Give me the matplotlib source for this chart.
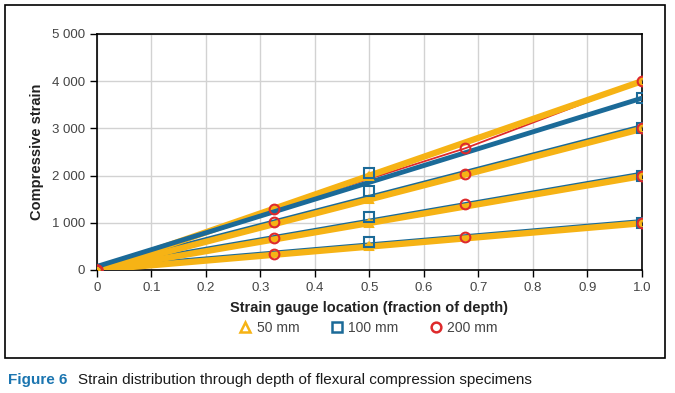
import matplotlib.pyplot as plt
from matplotlib.patches import Rectangle
from matplotlib.lines import Line2D

plt.rcParams['font.family'] = ['Liberation Sans', 'DejaVu Sans']

# strain gauge locations (fraction of depth)
x_50 = [0, 0.5, 1.0]
x_100 = [0, 0.5, 1.0]
x_200 = [0, 0.325, 0.675, 1.0]

# measured strains, one list per specimen
y_50 = [[0, 2000, 4000], [0, 1500, 3000], [0, 1000, 2000], [0, 500, 1000]]
y_100 = [[0, 2050, 3640], [0, 1670, 3000], [0, 1120, 2000], [0, 590, 1000]]
y_200 = [[0, 1290, 2575, 4000], [0, 1010, 2025, 3000],
         [0, 680, 1390, 2000], [0, 332, 706, 1000]]

# fitted lines: value at depth 0 and at depth 1
fit_x = [0, 1.0]
fit_50 = [[0, 4000], [0, 2990], [0, 1990], [0, 990]]
fit_100 = [[75, 3640], [70, 3060], [65, 2055], [60, 1050]]

xticks = [0, 0.1, 0.2, 0.3, 0.4, 0.5, 0.6, 0.7, 0.8, 0.9, 1.0]
xtick_labels = ["0", "0.1", "0.2", "0.3", "0.4", "0.5", "0.6", "0.7", "0.8", "0.9", "1.0"]
yticks = [0, 1000, 2000, 3000, 4000, 5000]
ytick_labels = ["0", "1 000", "2 000", "3 000", "4 000", "5 000"]

yellow = "#f6b315"
blue = "#1b6a98"
red = "#de2a2c"

fig = plt.figure(figsize=(6.75, 3.93), dpi=100)
ax = fig.add_axes([0.1437, 0.313, 0.8073, 0.6005])

for y in y_200:
    ax.plot(x_200, y, color=red, lw=1.3, zorder=2)
for i, f in enumerate(fit_100):
    if i == 0:
        ax.plot(fit_x, f, color=blue, lw=3.5, zorder=3.5)
    else:
        ax.plot(fit_x, f, color=blue, lw=2, zorder=2.2)
for f in fit_50:
    ax.plot(fit_x, f, color=yellow, lw=4.5, zorder=3, solid_capstyle="butt")

for y in y_50:
    ax.plot(x_50, y, ls="none", marker="^", ms=6, mfc="none", mec=yellow, mew=1.5, zorder=4)
for y in y_100:
    ax.plot(x_100, y, ls="none", marker="s", ms=6.5, mfc="none", mec=blue, mew=1.5, zorder=5)
for y in y_200:
    ax.plot(x_200, y, ls="none", marker="o", ms=7, mfc="none", mec=red, mew=1.5, zorder=6)

ax.set_xlim(0, 1.0)
ax.set_ylim(0, 5000)
ax.set_xticks(xticks)
ax.set_xticklabels(xtick_labels)
ax.set_yticks(yticks)
ax.set_yticklabels(ytick_labels)
ax.tick_params(direction="out", length=5, width=1, labelsize=9.5, labelcolor="#444444")
ax.grid(color="#d2d2d2", lw=1)
ax.set_axisbelow(True)
for s in ax.spines.values():
    s.set_linewidth(1.2)
    s.set_clip_on(False)

ax.set_xlabel("Strain gauge location (fraction of depth)", fontsize=10.5, fontweight="bold", color="#222222", labelpad=5)
ax.set_ylabel("Compressive strain", fontsize=10.5, fontweight="bold", color="#222222", labelpad=6)

handles = [
    Line2D([], [], ls="none", marker="^", ms=7, mfc="none", mec=yellow, mew=1.8),
    Line2D([], [], ls="none", marker="s", ms=7, mfc="none", mec=blue, mew=1.8),
    Line2D([], [], ls="none", marker="o", ms=7, mfc="none", mec=red, mew=1.8),
]
leg = fig.legend(handles, ["50 mm", "100 mm", "200 mm"], loc="center", bbox_to_anchor=(0.545, 0.165),
                 ncol=3, frameon=False, fontsize=10, handletextpad=0.3, columnspacing=2.2, handlelength=1)
for t in leg.get_texts():
    t.set_color("#444444")

fig.patches.append(Rectangle((0.0074, 0.089), 0.9778, 0.898, transform=fig.transFigure,
                             fill=False, edgecolor="black", lw=1.2))

fig.text(0.012, 0.033, "Figure 6", color="#1b75b0", fontsize=11, fontweight="bold", va="center")
fig.text(0.115, 0.033, "Strain distribution through depth of flexural compression specimens",
         color="#1a1a1a", fontsize=11, va="center")

fig.savefig("out.png", dpi=100)
